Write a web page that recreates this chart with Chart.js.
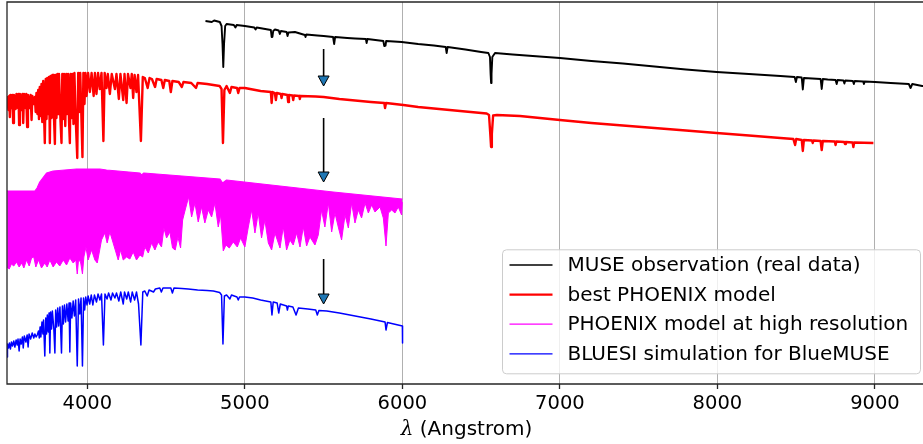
<!DOCTYPE html>
<html>
<head>
<meta charset="utf-8">
<script src="https://cdn.jsdelivr.net/npm/chart.js@4.4.1/dist/chart.umd.min.js"></script>
<style>
  html, body { margin: 0; padding: 0; background: #fff; }
</style>
</head>
<body>
<canvas id="spectra" width="923" height="444"></canvas>
<script>
// Spectra: [wavelength (Angstrom), offset flux (arbitrary units)]
const museObs = [
  [4750,3.63],[4790,3.62],[4805,3.635],[4841,3.62],[4852,3.58],[4858,3.40],[4863,3.17],[4868,3.40],[4875,3.58],
  [4884,3.60],[4930,3.59],[4940,3.565],[4948,3.59],[5000,3.58],[5060,3.565],[5068,3.545],[5075,3.565],
  [5165,3.54],[5170,3.47],[5175,3.47],[5180,3.53],[5191,3.545],[5215,3.535],[5222,3.50],[5229,3.53],
  [5265,3.52],[5271,3.48],[5277,3.515],[5318,3.52],[5381,3.49],[5385,3.47],[5390,3.495],[5460,3.485],
  [5500,3.48],[5560,3.47],[5567,3.40],[5573,3.47],[5650,3.46],[5700,3.455],[5768,3.45],[5773,3.41],
  [5778,3.45],[5879,3.43],[5885,3.38],[5893,3.385],[5897,3.43],[5995,3.42],[6100,3.40],[6200,3.385],
  [6275,3.37],[6281,3.31],[6287,3.37],[6400,3.345],[6500,3.32],[6546,3.31],[6556,3.27],[6560,3.10],
  [6563,3.01],[6566,3.10],[6571,3.27],[6588,3.31],[6700,3.295],[6870,3.275],[7000,3.26],[7200,3.23],
  [7400,3.205],[7600,3.175],[7800,3.145],[7995,3.12],[8200,3.10],[8400,3.08],[8490,3.07],[8498,3.02],
  [8505,3.07],[8535,3.065],[8542,2.945],[8549,3.06],[8655,3.05],[8662,2.95],[8669,3.05],[8700,3.045],
  [8750,3.04],[8757,3.00],[8763,3.04],[8800,3.035],[8806,3.005],[8812,3.035],[8860,3.03],[8866,3.00],
  [8872,3.03],[8925,3.025],[8930,3.00],[8935,3.025],[9000,3.02],[9100,3.01],[9215,3.00],[9226,2.96],
  [9237,3.00],[9300,2.98],[9350,2.985]
];

const bestPhoenix = [
  [3491,2.88],[3499,2.74],[3504,2.88],[3508,2.67],[3512,2.89],[3520,2.76],[3524,2.89],[3529,2.61],[3534,2.89],
  [3545,2.75],[3550,2.90],[3559,2.76],[3563,2.90],[3567,2.59],[3572,2.90],[3584,2.74],[3588,2.90],[3593,2.61],
  [3598,2.90],[3607,2.76],[3612,2.90],[3618,2.57],[3623,2.89],[3635,2.76],[3640,2.89],[3646,2.64],[3651,2.88],
  [3660,2.80],[3667,2.87],[3672,2.72],[3677,2.91],[3683,2.70],[3688,2.94],[3693,2.65],[3698,2.97],[3704,2.68],
  [3709,3.00],[3714,2.62],[3720,3.03],[3725,2.70],[3730,2.41],[3736,3.05],[3741,2.65],[3746,3.06],[3751,2.70],
  [3757,3.07],[3762,2.41],[3767,3.08],[3773,2.66],[3778,3.09],[3783,3.09],[3788,2.68],[3794,2.40],[3799,3.09],
  [3804,2.66],[3810,3.10],[3815,2.70],[3820,3.10],[3830,2.62],[3836,2.41],[3841,3.10],[3847,2.65],[3852,3.10],
  [3860,2.58],[3866,3.10],[3872,2.70],[3878,3.10],[3884,2.62],[3889,2.41],[3894,3.10],[3900,2.66],[3905,3.10],
  [3912,2.60],[3918,3.11],[3925,2.70],[3936,2.26],[3942,3.11],[3950,2.72],[3955,3.11],[3969,2.27],[3975,3.11],
  [3982,2.80],[3988,3.11],[3995,2.88],[4005,3.11],[4016,2.92],[4027,3.11],[4040,2.88],[4048,3.11],[4058,2.90],
  [4068,3.11],[4079,2.95],[4090,3.11],[4102,2.43],[4110,3.11],[4122,2.96],[4130,3.10],[4143,2.90],[4155,3.10],
  [4175,2.95],[4185,3.10],[4200,2.85],[4210,3.10],[4228,2.84],[4236,3.10],[4249,2.81],[4258,3.10],[4274,2.96],
  [4282,3.10],[4291,2.86],[4300,3.09],[4312,2.92],[4322,3.09],[4340,2.43],[4352,3.07],[4365,3.06],[4383,2.96],
  [4395,3.06],[4410,3.05],[4430,2.97],[4440,3.05],[4470,3.04],[4482,2.96],[4492,3.04],[4520,3.03],[4530,2.92],
  [4540,3.03],[4580,3.02],[4600,2.97],[4610,3.02],[4660,3.01],[4690,2.96],[4700,3.01],[4760,3.00],[4800,2.99],
  [4840,2.98],[4852,2.95],[4861,2.41],[4870,2.94],[4884,2.98],[4905,2.91],[4915,2.97],[4950,2.96],[4958,2.91],
  [4966,2.96],[5000,2.96],[5100,2.93],[5165,2.92],[5170,2.81],[5176,2.92],[5190,2.91],[5197,2.84],[5203,2.91],
  [5228,2.90],[5233,2.86],[5238,2.90],[5270,2.89],[5275,2.82],[5280,2.89],[5302,2.885],[5307,2.84],[5312,2.885],
  [5345,2.88],[5349,2.85],[5353,2.88],[5450,2.875],[5500,2.87],[5600,2.85],[5700,2.835],[5800,2.82],[5885,2.81],
  [5890,2.76],[5896,2.81],[6006,2.79],[6100,2.77],[6200,2.755],[6300,2.74],[6400,2.725],[6535,2.705],[6550,2.69],
  [6558,2.50],[6563,2.37],[6568,2.50],[6576,2.685],[6600,2.69],[6746,2.68],[7000,2.64],[7200,2.61],[7400,2.585],
  [7600,2.56],[7800,2.535],[7995,2.51],[8200,2.485],[8400,2.46],[8482,2.45],[8493,2.39],[8500,2.45],[8535,2.44],
  [8542,2.33],[8549,2.44],[8600,2.435],[8605,2.41],[8610,2.435],[8655,2.43],[8662,2.34],[8669,2.43],[8745,2.425],
  [8750,2.39],[8755,2.425],[8805,2.42],[8810,2.40],[8815,2.42],[8858,2.415],[8863,2.37],[8868,2.415],[8990,2.41]
];

// high resolution model: too dense to trace, kept as top and bottom envelopes
const hiresTop = [
  [3490,1.93],[3667,1.93],[3681,1.96],[3698,2.02],[3741,2.11],[3783,2.13],[3931,2.15],[4079,2.15],[4122,2.14],
  [4334,2.11],[4344,2.09],[4359,2.11],[4842,2.05],[4859,2.01],[4884,2.04],[5561,1.92],[6000,1.85]
];
const hiresBottom = [
  [3491,1.17],[3504,1.15],[3518,1.20],[3533,1.18],[3550,1.22],[3567,1.17],[3584,1.21],[3597,1.16],[3614,1.24],
  [3631,1.18],[3646,1.26],[3660,1.27],[3673,1.17],[3690,1.24],[3709,1.16],[3730,1.21],[3745,1.17],[3762,1.24],
  [3783,1.17],[3804,1.22],[3825,1.18],[3847,1.24],[3868,1.19],[3889,1.26],[3910,1.21],[3927,1.24],[3936,1.10],
  [3944,1.24],[3957,1.22],[3969,1.10],[3978,1.27],[3991,1.37],[4005,1.24],[4027,1.34],[4048,1.24],[4063,1.21],
  [4075,1.31],[4090,1.44],[4111,1.51],[4126,1.41],[4143,1.52],[4164,1.41],[4181,1.32],[4196,1.24],[4211,1.34],
  [4228,1.24],[4249,1.27],[4270,1.25],[4291,1.32],[4312,1.24],[4334,1.29],[4351,1.27],[4365,1.37],[4387,1.31],
  [4408,1.41],[4429,1.34],[4450,1.42],[4471,1.37],[4486,1.56],[4503,1.46],[4524,1.52],[4541,1.36],[4558,1.34],
  [4575,1.47],[4592,1.36],[4605,1.64],[4621,1.74],[4643,1.87],[4662,1.67],[4683,1.81],[4704,1.62],[4725,1.77],
  [4746,1.61],[4768,1.74],[4789,1.67],[4810,1.81],[4831,1.57],[4846,1.69],[4863,1.33],[4880,1.39],[4901,1.36],
  [4926,1.42],[4952,1.37],[4973,1.46],[5000,1.37],[5022,1.57],[5043,1.74],[5064,1.51],[5085,1.71],[5106,1.46],
  [5127,1.64],[5149,1.41],[5170,1.34],[5191,1.51],[5223,1.36],[5244,1.57],[5265,1.34],[5286,1.44],[5307,1.39],
  [5329,1.51],[5350,1.37],[5371,1.57],[5392,1.38],[5413,1.47],[5445,1.39],[5466,1.49],[5487,1.74],[5508,1.57],
  [5530,1.81],[5551,1.52],[5572,1.71],[5593,1.57],[5614,1.44],[5636,1.69],[5657,1.56],[5678,1.81],[5699,1.61],
  [5720,1.74],[5741,1.66],[5763,1.81],[5784,1.71],[5805,1.79],[5826,1.72],[5858,1.77],[5879,1.66],[5896,1.38],
  [5911,1.71],[5932,1.74],[5953,1.71],[5974,1.77],[5995,1.69],[6000,1.82]
];

const bluesiSim = [
  [3490,0.27],[3493,0.40],[3500,0.36],[3505,0.41],[3512,0.35],[3518,0.42],[3525,0.38],[3533,0.43],[3540,0.37],
  [3548,0.44],[3555,0.39],[3560,0.45],[3567,0.33],[3573,0.45],[3580,0.40],[3588,0.47],[3593,0.36],[3600,0.48],
  [3610,0.42],[3618,0.49],[3624,0.37],[3630,0.50],[3640,0.45],[3650,0.51],[3660,0.46],[3667,0.50],[3675,0.47],
  [3682,0.49],[3690,0.53],[3695,0.46],[3700,0.57],[3705,0.47],[3712,0.62],[3718,0.50],[3722,0.64],[3730,0.28],
  [3736,0.66],[3741,0.50],[3746,0.69],[3752,0.52],[3757,0.71],[3762,0.31],[3767,0.72],[3773,0.55],[3778,0.73],
  [3787,0.56],[3794,0.31],[3799,0.74],[3805,0.57],[3812,0.76],[3818,0.58],[3826,0.77],[3836,0.31],[3842,0.78],
  [3848,0.60],[3855,0.79],[3862,0.62],[3870,0.80],[3878,0.63],[3884,0.81],[3889,0.32],[3894,0.81],[3902,0.66],
  [3910,0.83],[3918,0.68],[3926,0.84],[3936,0.18],[3944,0.85],[3952,0.70],[3960,0.86],[3969,0.18],[3976,0.86],
  [3983,0.74],[3990,0.87],[3998,0.79],[4005,0.88],[4015,0.80],[4025,0.89],[4035,0.79],[4045,0.89],[4058,0.82],
  [4068,0.90],[4080,0.84],[4090,0.90],[4102,0.39],[4112,0.90],[4125,0.85],[4135,0.91],[4150,0.84],[4160,0.91],
  [4175,0.86],[4185,0.91],[4200,0.83],[4212,0.92],[4228,0.80],[4236,0.92],[4250,0.85],[4260,0.92],[4275,0.82],
  [4285,0.92],[4300,0.84],[4312,0.92],[4325,0.80],[4340,0.39],[4352,0.92],[4365,0.93],[4380,0.88],[4392,0.94],
  [4420,0.92],[4432,0.95],[4460,0.96],[4470,0.92],[4480,0.96],[4530,0.96],[4540,0.91],[4550,0.96],[4600,0.955],
  [4640,0.95],[4700,0.94],[4760,0.935],[4800,0.93],[4840,0.915],[4852,0.89],[4861,0.40],[4870,0.88],[4884,0.89],
  [4905,0.85],[4915,0.89],[4950,0.87],[4958,0.84],[4966,0.87],[5000,0.87],[5050,0.86],[5100,0.84],[5165,0.82],
  [5172,0.69],[5180,0.82],[5205,0.81],[5215,0.71],[5225,0.80],[5265,0.78],[5270,0.74],[5276,0.78],[5305,0.77],
  [5325,0.69],[5340,0.76],[5400,0.75],[5450,0.74],[5460,0.69],[5470,0.735],[5520,0.73],[5600,0.71],[5700,0.68],
  [5800,0.65],[5890,0.62],[5896,0.54],[5905,0.615],[6000,0.58],[6001,0.41]
];

const waveTicks = [4000, 5000, 6000, 7000, 8000, 9000];

// arrows from one spectrum to the next, at 5500 A
const arrowWave = [5500, 5500, 5500];
const arrowFrom = [3.35, 2.66, 1.25];
const arrowTo = [2.98, 2.02, 0.80];

const toXY = arr => arr.map(p => ({x: p[0], y: p[1]}));

// Frame (spines) drawn over the data like matplotlib does
const framePlugin = {
    id: 'frame',
    afterDatasetsDraw(chart) {
        const {ctx, chartArea: a} = chart;
        ctx.save();
        ctx.strokeStyle = '#262626';
        ctx.lineWidth = 1.3;
        ctx.beginPath();
        ctx.moveTo(a.right + 2, a.top);
        ctx.lineTo(a.left, a.top);
        ctx.lineTo(a.left, a.bottom);
        ctx.lineTo(a.right + 2, a.bottom);
        ctx.stroke();
        ctx.restore();
    }
};

const arrowPlugin = {
    id: 'arrows',
    afterDatasetsDraw(chart) {
        const {ctx, scales} = chart;
        ctx.save();
        arrowWave.forEach((w, i) => {
            const x = scales.x.getPixelForValue(w);
            const y1 = scales.y.getPixelForValue(arrowFrom[i]);
            const y2 = scales.y.getPixelForValue(arrowTo[i]);
            const head = 10;
            ctx.strokeStyle = '#000';
            ctx.lineWidth = 1.6;
            ctx.beginPath();
            ctx.moveTo(x, y1);
            ctx.lineTo(x, y2 - head);
            ctx.stroke();
            ctx.beginPath();
            ctx.moveTo(x - 5.5, y2 - head);
            ctx.lineTo(x + 5.5, y2 - head);
            ctx.lineTo(x, y2);
            ctx.closePath();
            ctx.fillStyle = '#1f77b4';
            ctx.fill();
            ctx.lineWidth = 1;
            ctx.stroke();
        });
        ctx.restore();
    }
};

const legendPlugin = {
    id: 'boxLegend',
    afterDraw(chart) {
        const {ctx, chartArea: a} = chart;
        const items = chart.data.datasets.filter(d => d.label);
        const w = 418, h = 124;
        const x0 = a.right - 3 - w;
        const y0 = a.bottom - 10.7 - h;
        ctx.save();
        ctx.beginPath();
        ctx.roundRect(x0 + 0.5, y0 + 0.5, w, h, 4);
        ctx.fillStyle = 'rgba(255,255,255,0.8)';
        ctx.fill();
        ctx.strokeStyle = '#cccccc';
        ctx.lineWidth = 1;
        ctx.stroke();
        ctx.font = '20px "DejaVu Sans"';
        ctx.textBaseline = 'middle';
        items.forEach((d, i) => {
            const y = y0 + 15.7 + i * 29.6;
            ctx.strokeStyle = d.borderColor;
            ctx.lineWidth = d.legendWidth;
            ctx.beginPath();
            ctx.moveTo(x0 + 7.5, y);
            ctx.lineTo(x0 + 50.5, y);
            ctx.stroke();
            ctx.fillStyle = '#000';
            ctx.fillText(d.label, x0 + 65.5, y + 1);
        });
        ctx.restore();
    }
};

// axis title with an italic lambda, as in the original
const titlePlugin = {
    id: 'axisTitle',
    afterDraw(chart) {
        const {ctx, chartArea: a} = chart;
        const cx = (a.left + a.right) / 2 + 1.5;
        const y = 430;
        ctx.save();
        ctx.fillStyle = '#000';
        ctx.textBaseline = 'middle';
        ctx.font = 'italic 20px "DejaVu Serif"';
        const lam = 'λ';
        const rest = ' (Angstrom)';
        const w1 = ctx.measureText(lam).width;
        ctx.font = '20px "DejaVu Sans"';
        const w2 = ctx.measureText(rest).width;
        const x0 = cx - (w1 + w2) / 2;
        ctx.font = 'italic 20px "DejaVu Serif"';
        ctx.fillText(lam, x0, y);
        ctx.font = '20px "DejaVu Sans"';
        ctx.fillText(rest, x0 + w1, y);
        ctx.restore();
    }
};

Chart.defaults.font.family = '"DejaVu Sans", sans-serif';
Chart.defaults.color = '#000';

const lineDefaults = {pointRadius: 0, tension: 0, fill: false, borderJoinStyle: 'round'};

new Chart(document.getElementById('spectra'), {
    type: 'line',
    data: {
        datasets: [
            {...lineDefaults, label: 'MUSE observation (real data)', data: toXY(museObs),
             borderColor: '#000000', borderWidth: 1.9, legendWidth: 1.3},
            {...lineDefaults, label: 'best PHOENIX model', data: toXY(bestPhoenix),
             borderColor: '#ff0000', borderWidth: 2.4, legendWidth: 2.2},
            {...lineDefaults, label: 'PHOENIX model at high resolution', data: toXY(hiresTop),
             borderColor: '#ff00ff', borderWidth: 1.2, legendWidth: 1.3},
            {...lineDefaults, data: toXY(hiresBottom), fill: '-1',
             borderColor: '#ff00ff', backgroundColor: '#ff00ff', borderWidth: 1},
            {...lineDefaults, label: 'BLUESI simulation for BlueMUSE', data: toXY(bluesiSim),
             borderColor: '#0000ff', borderWidth: 1.5, legendWidth: 1.3}
        ]
    },
    options: {
        responsive: false,
        animation: false,
        layout: {padding: {left: 7, right: 0, top: 2, bottom: 0}},
        plugins: {
            legend: {display: false},
            tooltip: {enabled: false}
        },
        scales: {
            x: {
                type: 'linear',
                min: 3490,
                max: 9305,
                afterBuildTicks: scale => { scale.ticks = waveTicks.map(v => ({value: v})); },
                afterFit: scale => { scale.height = 60; },
                grid: {
                    color: '#b0b0b0',
                    lineWidth: 1,
                    drawTicks: true,
                    tickLength: 5,
                    tickColor: '#262626',
                    tickWidth: 1.3
                },
                border: {display: false},
                ticks: {
                    font: {size: 19.5},
                    padding: 3,
                    maxRotation: 0,
                    callback: v => String(v)
                },
                title: {display: false}
            },
            y: {
                display: false,
                min: 0,
                max: 3.82
            }
        }
    },
    plugins: [framePlugin, arrowPlugin, legendPlugin, titlePlugin]
});
</script>
</body>
</html>
